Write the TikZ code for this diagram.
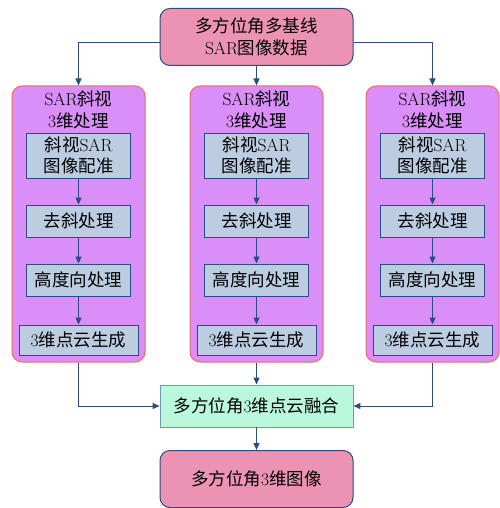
\documentclass[tikz,border=0pt]{standalone}
\usepackage{fontspec}
\newfontfamily\cjk{Noto Sans CJK SC}
\usetikzlibrary{arrows.meta}
\newcommand{\zh}[1]{{\cjk #1}}
\definecolor{topfill}{HTML}{EC93B3}
\definecolor{dkblue}{HTML}{2B4C7E}
\definecolor{bigfill}{HTML}{DA8EF7}
\definecolor{bigedge}{HTML}{F26A62}
\definecolor{infill}{HTML}{BCCDE1}
\definecolor{fusfill}{HTML}{B9F8DD}
\definecolor{fusedge}{HTML}{6F9CB4}
\begin{document}
\begin{tikzpicture}[x=1pt,y=-1pt,
  every node/.style={font=\fontsize{17.5}{21.5}\selectfont, align=center, inner sep=0pt},
  endbox/.style={draw=dkblue, fill=topfill, line width=1pt, rounded corners=10pt, minimum width=193pt, minimum height=57pt},
  bigbox/.style={draw=bigedge, fill=bigfill, line width=1pt, rounded corners=10pt, minimum width=133pt, minimum height=276pt},
  inbox/.style={draw=dkblue, fill=infill, line width=0.9pt, minimum width=104pt},
  fusbox/.style={draw=fusedge, fill=fusfill, line width=0.9pt, minimum width=193pt, minimum height=42pt},
  arr/.style={draw=dkblue, line width=1pt, -{Triangle[length=7pt,width=6pt]}}]
\useasboundingbox (0,0) rectangle (499,508);

\node[endbox] (top) at (256.5,37) {\zh{多方位角多基线}\\SAR\zh{图像数据}};

\foreach \n/\x in {L/78.5, M/256.5, R/432.5}{
  \node[bigbox] (\n) at (\x,224) {};
  \node (\n t) at (\x,110) {SAR\zh{斜视}\\3\zh{维处理}};
  \node[inbox, minimum height=45pt] (\n a) at (\x,155.5) {\zh{斜视}SAR\\\zh{图像配准}};
  \node[inbox, minimum height=32pt] (\n b) at (\x,221) {\zh{去斜处理}};
  \node[inbox, minimum height=32pt] (\n c) at (\x,280) {\zh{高度向处理}};
  \node[inbox, minimum height=30pt, minimum width=119pt] (\n d) at (\x,340) {3\zh{维点云生成}};
  \draw[arr] (\n a) -- (\n b);
  \draw[arr] (\n b) -- (\n c);
  \draw[arr] (\n c) -- (\n d);
}

\node[fusbox] (fus) at (256.5,406) {\zh{多方位角}3\zh{维点云融合}};
\node[endbox] (fin) at (256.5,479) {\zh{多方位角}3\zh{维图像}};

\draw[arr] ([yshift=-6pt]top.west) -| (L.north);
\draw[arr] ([yshift=-6pt]top.east) -| (R.north);
\draw[arr] (top.south) -- (M.north);
\draw[arr] (L.south) |- (fus.west);
\draw[arr] (R.south) |- (fus.east);
\draw[arr] (M.south) -- (fus.north);
\draw[arr] (fus.south) -- (fin.north);
\end{tikzpicture}
\end{document}
